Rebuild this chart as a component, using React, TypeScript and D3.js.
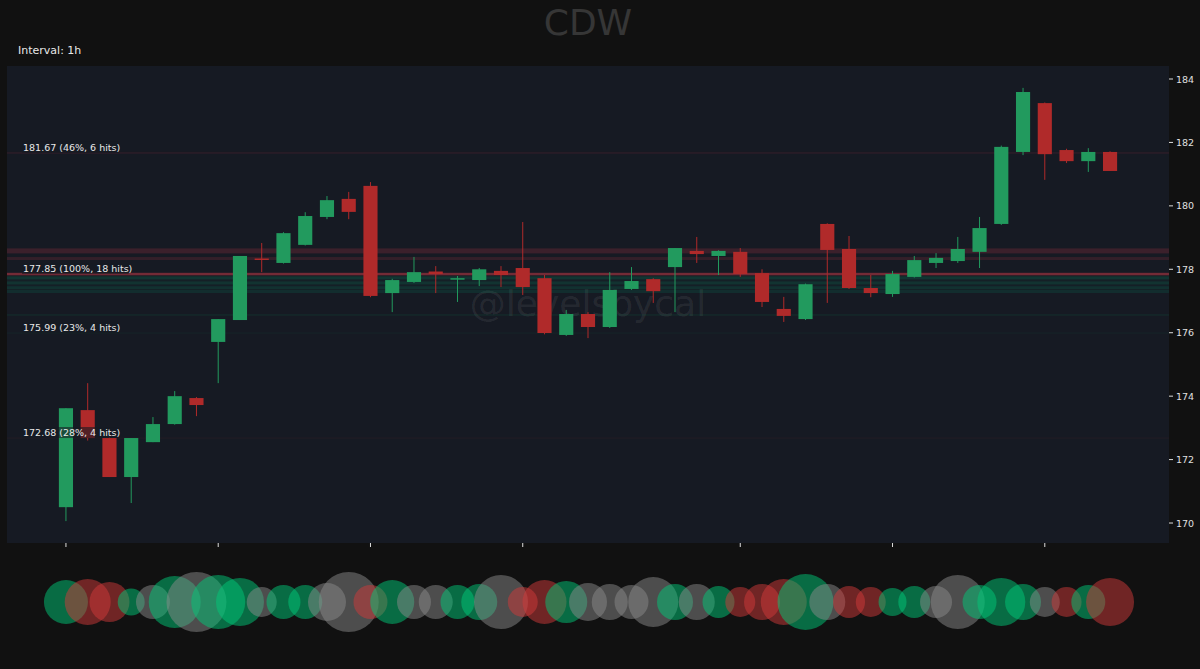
import React from "react";
import * as d3 from "d3";

const opens = [170.50,173.56,172.68,171.45,172.55,173.12,173.94,175.71,176.40,178.34,178.20,178.77,179.65,180.22,180.63,177.25,177.60,177.93,177.68,177.66,177.95,178.04,177.72,175.93,176.59,176.18,177.38,177.69,178.07,178.58,178.42,178.55,177.88,176.75,176.43,179.43,178.64,177.41,177.22,177.76,178.20,178.26,178.55,179.43,181.70,183.24,181.76,181.41,181.70];
const highs = [173.62,174.41,172.70,172.68,173.34,174.16,173.97,176.43,178.42,178.83,179.17,179.80,180.31,180.44,180.75,177.70,178.39,178.10,177.79,178.04,178.10,179.49,177.82,176.72,176.65,177.91,178.07,177.72,178.67,179.02,178.60,178.67,178.00,177.13,177.55,179.45,179.05,177.82,177.95,178.42,178.51,179.02,179.65,181.90,183.72,183.26,181.80,181.82,181.72];
const lows = [170.06,172.60,171.45,170.63,172.55,173.10,173.37,174.41,176.40,177.91,178.18,178.75,179.58,179.58,177.12,176.65,177.57,177.25,176.97,177.47,177.44,177.19,175.95,175.90,175.83,176.15,177.35,176.94,176.65,178.20,177.82,177.76,176.81,176.34,176.40,176.94,177.38,177.12,177.13,177.74,178.04,178.20,178.04,179.40,181.60,180.82,181.35,181.07,181.10];
const closes = [173.62,172.68,171.45,172.68,173.12,174.00,173.72,176.43,178.42,178.30,179.14,179.68,180.18,179.81,177.16,177.66,177.91,177.85,177.72,178.00,177.82,177.44,175.99,176.59,176.18,177.35,177.63,177.31,178.67,178.48,178.58,177.85,176.97,176.53,177.53,178.61,177.41,177.25,177.85,178.29,178.36,178.64,179.30,181.86,183.59,181.63,181.41,181.70,181.10];

// bubble sizes (relative volume) and bubble colour class
const volumes = [484,529,400,182,289,676,900,729,576,225,289,289,361,900,289,484,289,289,289,324,729,225,484,441,361,324,289,625,324,324,256,225,324,529,784,324,256,225,196,256,256,729,289,576,324,225,225,289,576];
const bubbleKinds = ["g","r","r","g","n","g","n","g","g","n","g","g","n","n","r","g","n","n","g","g","n","r","r","g","n","n","n","n","g","n","g","r","r","r","g","n","r","r","g","g","n","n","g","g","g","n","r","g","r"];

const xTickIndices = [0, 7, 14, 21, 31, 38, 45];
const yTicks = [170, 172, 174, 176, 178, 180, 182, 184];

const levelPrices = [181.67, 178.58, 178.34, 177.85, 177.73, 177.57, 177.42, 177.30, 176.56, 175.99, 172.68];
const levelKinds = ["r", "r", "r", "r", "g", "g", "g", "g", "g", "g", "r"];
const levelAlphas = [0.09, 0.2, 0.16, 0.5, 0.15, 0.14, 0.12, 0.1, 0.07, 0.03, 0.03];
const levelThickness = [2, 5, 3, 2.5, 3, 3, 3, 3, 2, 2, 2];
const labelPrices = [181.67, 177.85, 175.99, 172.68];
const labelTexts = ["181.67 (46%, 6 hits)", "177.85 (100%, 18 hits)", "175.99 (23%, 4 hits)", "172.68 (28%, 4 hits)"];

const W = 1200, H = 669;
const PL = 7, PR = 1169, PT = 66, PB = 543;
const FONT = "DejaVu Sans, sans-serif";

export default function App() {
  const x = d3.scaleLinear().domain([-2.71, 50.71]).range([PL, PR]);
  const y = d3.scaleLinear().domain([169.37, 184.41]).range([PB, PT]);
  const step = x(1) - x(0);
  const bw = step * 0.65;
  const maxV = d3.max(volumes) as number;
  const r = d3.scaleSqrt().domain([0, maxV]).range([0, 30]);
  const upC = "#229a5e", downC = "#b02a2a";
  const bubbleColor: Record<string, string> = { g: "#00c878", r: "#d03a3a", n: "#8a8a8a" };
  const levelColor: Record<string, string> = { g: "#00b478", r: "#d03c4a" };
  const bubbleY = 602;

  return (
    <div style={{ position: "absolute", left: 0, top: 0, width: W, height: H }}>
      <svg width={W} height={H} style={{ display: "block" }}>
        <rect x={0} y={0} width={W} height={H} fill="#111111" />
        <text x={588} y={35} textAnchor="middle" fontFamily={FONT} fontSize={36} fill="#363636">CDW</text>
        <text x={18} y={54} fontFamily={FONT} fontSize={11} fill="#e8e8e8">Interval: 1h</text>
        <rect x={PL} y={PT} width={PR - PL} height={PB - PT} fill="#161a23" />
        {/* watermark */}
        <text x={588} y={316} textAnchor="middle" fontFamily={FONT} fontSize={36} fill="#ffffff" fillOpacity={0.08}>@levelsbycal</text>
        {/* level zone */}
        <rect x={PL} y={y(177.85) + 2} width={PR - PL} height={y(177.25) - y(177.85) - 2} fill="#00b478" fillOpacity={0.04} />
        {levelPrices.map((p, i) => (
          <rect key={"lv" + i} x={PL} y={y(p) - levelThickness[i] / 2} width={PR - PL} height={levelThickness[i]}
            fill={levelColor[levelKinds[i]]} fillOpacity={levelAlphas[i]} />
        ))}
        {/* candles */}
        {opens.map((o, i) => {
          const c = closes[i];
          const col = c >= o ? upC : downC;
          const top = y(Math.max(o, c));
          const bot = y(Math.min(o, c));
          const cx = x(i);
          return (
            <g key={"c" + i}>
              <line x1={cx} x2={cx} y1={y(highs[i])} y2={y(lows[i])} stroke={col} strokeWidth={1} />
              <rect x={cx - bw / 2} y={top} width={bw} height={Math.max(bot - top, 1.5)} fill={col} />
            </g>
          );
        })}
        {/* level labels */}
        {labelPrices.map((p, i) => {
          const tw = labelTexts[i].length * 4.75;
          return (
            <g key={"lb" + i}>
              <rect x={22} y={y(p) - 11} width={tw + 2} height={11} fill="#161a23" fillOpacity={0.6} />
              <text x={23} y={y(p) - 2} fontFamily={FONT} fontSize={9.5} fill="#e8e8e8">{labelTexts[i]}</text>
            </g>
          );
        })}
        {/* y axis */}
        {yTicks.map((t) => (
          <g key={"yt" + t}>
            <line x1={PR} x2={PR + 4} y1={y(t)} y2={y(t)} stroke="#dddddd" strokeWidth={1} />
            <text x={PR + 7} y={y(t) + 3.5} fontFamily={FONT} fontSize={9.5} fill="#e0e0e0">{t}</text>
          </g>
        ))}
        {/* x ticks */}
        {xTickIndices.map((t) => (
          <line key={"xt" + t} x1={x(t)} x2={x(t)} y1={PB} y2={PB + 4} stroke="#dddddd" strokeWidth={1} />
        ))}
        {/* volume bubbles */}
        {volumes.map((v, i) => (
          <circle key={"b" + i} cx={x(i)} cy={bubbleY} r={r(v)} fill={bubbleColor[bubbleKinds[i]]} fillOpacity={0.5} />
        ))}
      </svg>
    </div>
  );
}
